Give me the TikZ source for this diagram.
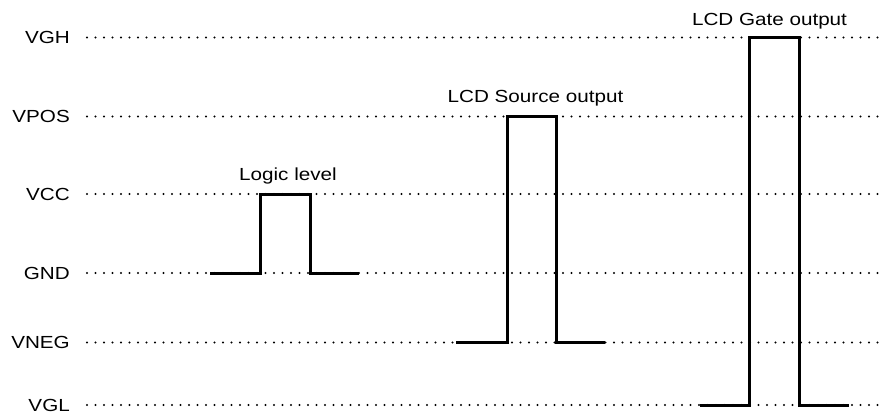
\documentclass[tikz,border=0pt]{standalone}
\usepackage{fontspec}
\newfontfamily\lblfont[FakeStretch=1.18]{Liberation Sans}
\begin{document}
\begin{tikzpicture}[x=1pt,y=-1pt,
  lbl/.style={font=\lblfont\fontsize{17.5}{20}\selectfont, inner sep=0pt},
  level/.style={lbl, anchor=east},
  title/.style={lbl, anchor=base},
  dotline/.style={line width=2.1pt, line cap=round, dash pattern=on 0pt off 8.5pt},
  pulse/.style={line width=3pt, line join=miter}]
\useasboundingbox (0,0) rectangle (889,417);
% level labels
\node[level] (vgh)  at (70,37.5)  {VGH};
\node[level] (vpos) at (70,116.5) {VPOS};
\node[level] (vcc)  at (70,194)   {VCC};
\node[level] (gnd)  at (70,273)   {GND};
\node[level] (vneg) at (70,342.5) {VNEG};
\node[level] (vgl)  at (70,405)   {VGL};
% dotted reference lines
\foreach \n/\y in {vgh/37.5, vpos/116.5, vcc/194, gnd/273, vneg/342.5, vgl/405}{
  \coordinate (\n-s) at (87,\y);
  \coordinate (\n-e) at (885,\y);
  \draw[dotline] (\n-s) -- (\n-e);
}
% logic level pulse
\coordinate (la) at (210,273);
\coordinate (lb) at (260,273);
\coordinate (lc) at (260,194);
\coordinate (ld) at (310,194);
\coordinate (le) at (310,273);
\coordinate (lf) at (359,273);
\draw[pulse] (la) -- (lb) -- (lc) -- (ld) -- (le) -- (lf);
\node[title] (tlogic) at (288,180) {Logic level};
% LCD source pulse
\coordinate (sa) at (456,342.5);
\coordinate (sb) at (507,342.5);
\coordinate (sc) at (507,116.5);
\coordinate (sd) at (556,116.5);
\coordinate (se) at (556,342.5);
\coordinate (sf) at (605,342.5);
\draw[pulse] (sa) -- (sb) -- (sc) -- (sd) -- (se) -- (sf);
\node[title] (tsource) at (535.5,103) {LCD Source output};
% LCD gate pulse
\coordinate (ga) at (700,405);
\coordinate (gb) at (749,405);
\coordinate (gc) at (749,37.5);
\coordinate (gd) at (799,37.5);
\coordinate (ge) at (799,405);
\coordinate (gf) at (849,405);
\draw[pulse] (ga) -- (gb) -- (gc) -- (gd) -- (ge) -- (gf);
\node[title] (tgate) at (769.5,25.5) {LCD Gate output};
\end{tikzpicture}
\end{document}
